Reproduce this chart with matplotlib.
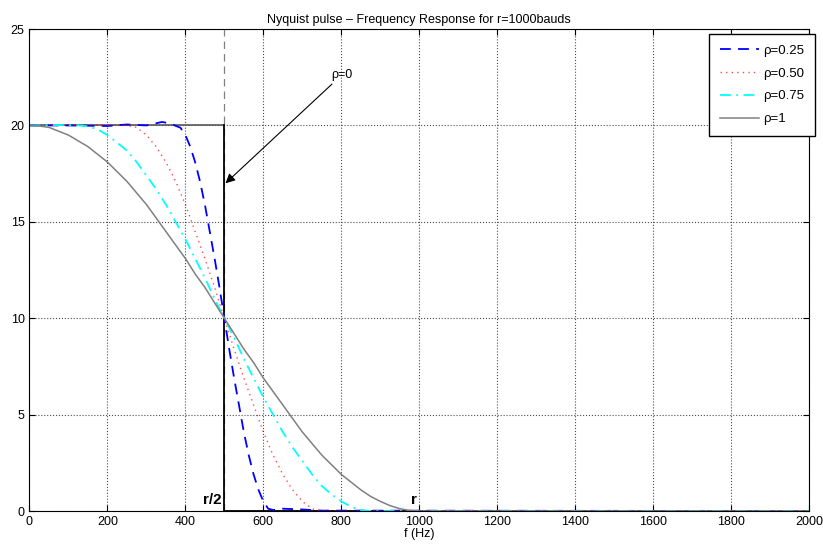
import matplotlib.pyplot as plt
import numpy as np

plt.rcParams['font.family'] = ['Liberation Sans', 'DejaVu Sans']

# rho = 0.25  (flat part has a small ripple)
f_025 = [0, 100, 200, 250, 300, 340, 362, 375, 387.5, 400, 412.5, 425, 437.5, 450, 462.5, 475, 487.5, 500,
         512.5, 525, 537.5, 550, 562.5, 575, 587.5, 600, 612.5, 625, 650, 700, 750, 2000]
h_025 = [20.0, 20.0, 19.97, 20.05, 20.0, 20.18, 20.1, 19.98, 19.88, 19.5, 18.9, 18.1, 17.1, 15.9, 14.5, 13.1, 11.6, 10.0,
         8.4, 6.9, 5.5, 4.1, 2.9, 1.9, 1.1, 0.5, 0.12, 0.05, 0.12, 0.08, 0.02, 0.0]

# rho = 0.50
f_050 = [0, 150, 250, 275, 300, 325, 350, 375, 400, 425, 450, 475, 500, 525, 550, 575, 600, 625, 650, 675, 700, 725, 750, 2000]
h_050 = [20.0, 20.02, 20.0, 19.9, 19.5, 18.9, 18.1, 17.1, 15.9, 14.5, 13.1, 11.6, 10.0, 8.4, 6.9, 5.5, 4.1, 2.9, 1.9, 1.1, 0.5, 0.12, 0.0, 0.0]

# rho = 0.75
f_075 = [0, 75, 125, 150, 175, 200, 225, 250, 275, 300, 325, 350, 375, 400, 425, 450, 475, 500,
         525, 550, 575, 600, 625, 650, 675, 700, 725, 750, 775, 800, 825, 850, 875, 2000]
h_075 = [20.0, 20.02, 20.0, 19.95, 19.8, 19.5, 19.1, 18.7, 18.1, 17.4, 16.7, 15.9, 15.0, 14.1, 13.1, 12.1, 11.0, 10.0,
         9.0, 7.9, 6.9, 5.9, 5.0, 4.1, 3.3, 2.6, 1.9, 1.3, 0.86, 0.5, 0.22, 0.05, 0.0, 0.0]

# rho = 1
f_100 = [0, 25, 50, 75, 100, 125, 150, 175, 200, 225, 250, 275, 300, 325, 350, 375, 400, 425, 450, 475, 500,
         525, 550, 575, 600, 625, 650, 675, 700, 725, 750, 775, 800, 825, 850, 875, 900, 925, 950, 975, 1000, 2000]
h_100 = [20.0, 19.97, 19.9, 19.7, 19.5, 19.2, 18.9, 18.5, 18.1, 17.6, 17.1, 16.5, 15.9, 15.2, 14.5, 13.8, 13.1, 12.3, 11.6, 10.8, 10.0,
         9.2, 8.4, 7.7, 6.9, 6.2, 5.5, 4.8, 4.1, 3.5, 2.9, 2.4, 1.9, 1.5, 1.1, 0.76, 0.5, 0.28, 0.12, 0.03, 0.0, 0.0]

# rho = 0 (ideal brick wall)
f_0 = [0, 500, 500, 2000]
h_0 = [20, 20, 0, 0]

fig = plt.figure(figsize=(8.23, 5.48), dpi=100)
ax = fig.add_axes([0.0358, 0.0675, 0.9472, 0.8795])

ax.plot(f_0[:2], h_0[:2], color='0.35', lw=1.2)
ax.plot([500, 500], [0, 25], color='0.5', ls=(0, (6, 4)), lw=0.9)
ax.plot(f_0[1:], h_0[1:], color='black', lw=1.3)

ax.plot(f_025, h_025, color='blue', ls=(0, (6, 4)), lw=1.3, label='ρ=0.25')
ax.plot(f_050, h_050, color='red', ls=(0, (1, 3)), lw=1.0, alpha=0.7, label='ρ=0.50')
ax.plot(f_075, h_075, color='cyan', ls=(0, (6, 3, 1, 3)), lw=1.3, label='ρ=0.75')
ax.plot(f_100, h_100, color='gray', lw=1.1, label='ρ=1')

ax.set_xlim(0, 2000)
ax.set_ylim(0, 25)
ax.set_xticks(np.arange(0, 2001, 200))
ax.set_yticks(np.arange(0, 26, 5))
ax.tick_params(direction='in', top=True, right=True, labelsize=9, length=4)
ax.grid(True, ls=':', color='0.3', lw=0.8)
for s in ax.spines.values():
    s.set_linewidth(0.8)

ax.set_title('Nyquist pulse \u2013 Frequency Response for r=1000bauds', fontsize=9, pad=4)
ax.set_xlabel('f (Hz)', fontsize=9, labelpad=0)

ax.text(494, 0.2, 'r/2', fontsize=11, fontweight='bold', ha='right', va='bottom')
ax.text(978, 0.2, 'r', fontsize=11, fontweight='bold', ha='left', va='bottom')
ax.annotate('ρ=0', xy=(503, 17.0), xytext=(773, 22.6), fontsize=9,
            ha='left', va='center',
            arrowprops=dict(arrowstyle='-|>', color='black', lw=0.8,
                            shrinkA=0, shrinkB=0, mutation_scale=14))

leg = ax.legend(loc='upper right', fontsize=9.5, fancybox=False, edgecolor='black',
                framealpha=1, handlelength=3.0, handletextpad=0.3, borderpad=0.8,
                labelspacing=0.8, borderaxespad=0, bbox_to_anchor=(1.0077, 0.9896))
leg.get_frame().set_linewidth(1.0)

fig.savefig('out.png', dpi=100)
